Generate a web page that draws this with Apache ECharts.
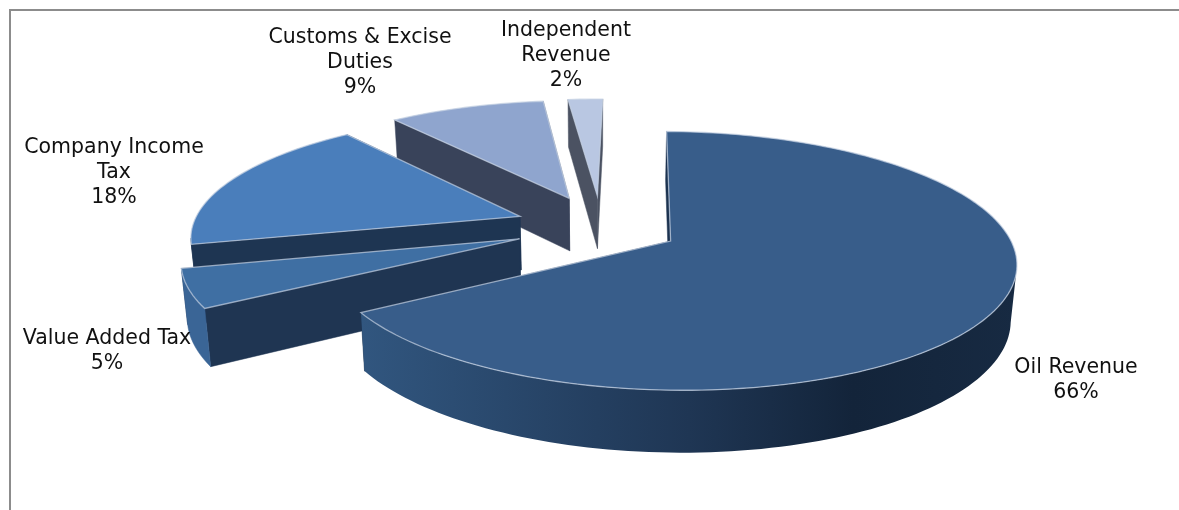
<!DOCTYPE html>
<html>
<head>
<meta charset="utf-8">
<style>html,body{margin:0;padding:0;background:#fff}#chart{width:1179px;height:510px}</style>
<script src="https://cdn.jsdelivr.net/npm/echarts@6/dist/echarts.min.js"></script>
</head>
<body>
<div id="chart"></div>
<script>
// Revenue shares, in percent, clockwise from twelve o'clock
const categories = ['Oil Revenue', 'Value Added Tax', 'Company Income\nTax', 'Customs & Excise\nDuties', 'Independent\nRevenue'];
const shares = [66, 5, 18, 9, 2];

// How far each wedge is pulled from the pie centre, as a fraction of the radius
const explosion = [0.235, 0.26, 0.26, 0.26, 0.26];
// Radius of each wedge relative to the pie
const wedgeRadius = [1, 0.98, 0.98, 0.98, 0.98];

// Wedge colours
const topColors = ['#385d8a', '#3f6fa3', '#4a7ebb', '#8fa5ce', '#b9c7e2'];
const rimColors = [
  { type: 'linear', x: 0, y: 0, x2: 1, y2: 0, colorStops: [
    { offset: 0, color: '#31567f' }, { offset: 0.5, color: '#1f3654' },
    { offset: 0.75, color: '#13243a' }, { offset: 1, color: '#172a42' }] },
  '#3a6596', '#1e3552', '#39435a', '#4b5262'
];
const cutColors = ['#1c3350', '#1f3552', '#1e3552', '#39435a', '#4b5262'];
const edgeColor = 'rgba(196,208,226,0.72)';

// Label centres
const labelCentres = [[1076, 380], [107, 351], [114, 173], [360, 63], [566, 56]];

// Oblique projection of the pie
const view = { cx: 601.2, cy: 226.6, rx: 334.5, ry: 122, persp: 0.15, depth: 54, floorScale: 0.985, startDeg: 1 };

function project(u, v, lower) {
  const w = 1 - view.persp * v;
  const s = lower ? view.floorScale : 1;
  const drop = lower ? view.depth : 0;
  return [
    view.cx + s * view.rx * u / w,
    view.cy + (s * view.ry * v + drop) / w
  ];
}

const total = shares.reduce((a, b) => a + b, 0);

function wedgeGeometry(index) {
  let before = 0;
  for (let i = 0; i < index; i++) before += shares[i];
  const a0 = view.startDeg + before / total * 360;
  const a1 = a0 + shares[index] / total * 360;
  const mid = (a0 + a1) / 2 * Math.PI / 180;
  const ox = Math.sin(mid) * explosion[index];
  const oy = -Math.cos(mid) * explosion[index];
  const r = wedgeRadius[index];
  const arc = [];
  const steps = Math.max(6, Math.ceil((a1 - a0) / 1.5));
  for (let k = 0; k <= steps; k++) {
    const t = (a0 + (a1 - a0) * k / steps) * Math.PI / 180;
    arc.push([ox + r * Math.sin(t), oy - r * Math.cos(t)]);
  }
  return { apex: [ox, oy], arc };
}

function renderWedge(params, api) {
  const i = params.dataIndex;
  const { apex, arc } = wedgeGeometry(i);
  const rank = (shares.length - i) * 10;
  const upper = p => project(p[0], p[1], false);
  const lower = p => project(p[0], p[1], true);
  const quad = (a, b) => [upper(a), upper(b), lower(b), lower(a)];
  const first = arc[0], last = arc[arc.length - 1];
  const flat = fill => ({ fill, stroke: fill, lineWidth: 0.5 });
  const topPoints = [upper(apex)].concat(arc.map(upper));

  // Only the part of the outer wall that faces the viewer: the arc runs right to left there
  const front = arc.filter((p, k) => {
    const next = arc[Math.min(k + 1, arc.length - 1)];
    const prev = arc[Math.max(k - 1, 0)];
    return upper(next)[0] < upper(prev)[0];
  });
  const rimPoints = front.map(upper).concat(front.slice().reverse().map(lower));

  const [lx, ly] = labelCentres[i];
  const children = [
    { type: 'polygon', z2: rank, shape: { points: quad(apex, last) }, style: flat(cutColors[i]) },
    { type: 'polygon', z2: rank + 1, shape: { points: quad(apex, first) }, style: flat(cutColors[i]) },
    { type: 'polygon', z2: rank + 3, shape: { points: topPoints },
      style: { fill: topColors[i], stroke: edgeColor, lineWidth: 1.3, lineJoin: 'miter' } },
    { type: 'text', z2: 100, x: lx, y: ly,
      style: {
        text: categories[i] + '\n' + api.value(0) + '%',
        fill: '#111', font: '20.5px "DejaVu Sans"', lineHeight: 25,
        align: 'center', verticalAlign: 'middle'
      } }
  ];
  if (front.length > 1) {
    children.push({ type: 'polygon', z2: rank + 2, shape: { points: rimPoints },
      style: { fill: rimColors[i], stroke: i === 0 ? null : rimColors[i], lineWidth: 0.5 } });
  }
  return { type: 'group', children };
}

const chart = echarts.init(document.getElementById('chart'), null, { renderer: 'canvas' });
chart.setOption({
  animation: false,
  backgroundColor: '#ffffff',
  graphic: [
    { type: 'polyline', silent: true, shape: { points: [[10, 510], [10, 10], [1179, 10]] },
      style: { stroke: '#8c8c8c', lineWidth: 2, fill: null } }
  ],
  series: [{
    type: 'custom',
    coordinateSystem: 'none',
    silent: true,
    renderItem: renderWedge,
    data: shares.map((value, i) => ({ name: categories[i], value: [value] }))
  }]
});
</script>
</body>
</html>
